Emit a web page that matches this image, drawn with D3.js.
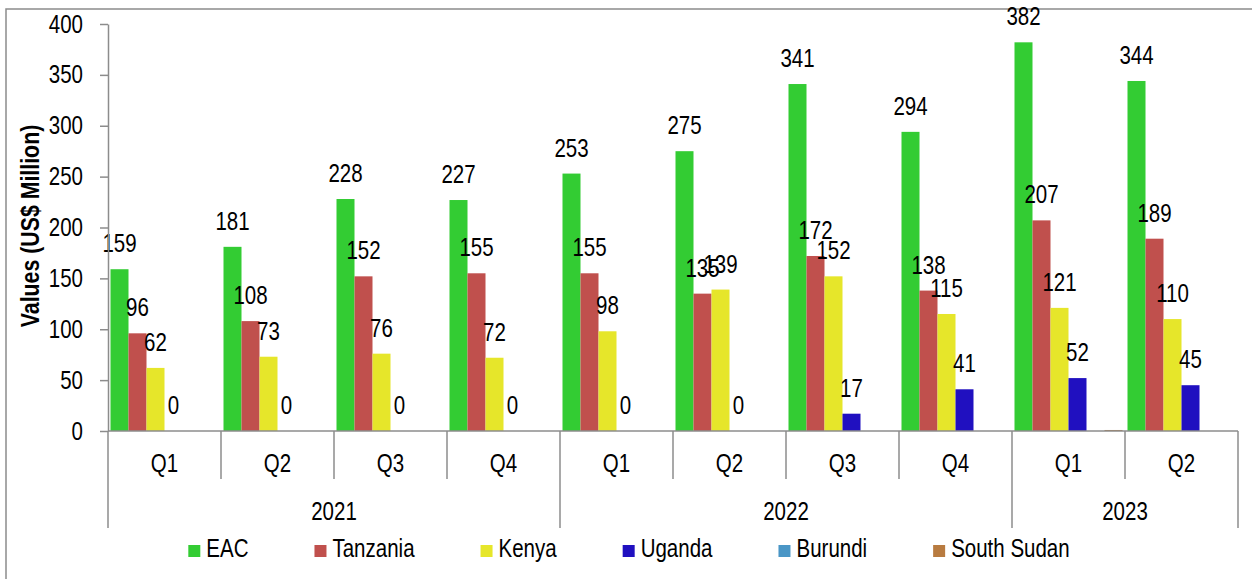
<!DOCTYPE html>
<html>
<head>
<meta charset="utf-8">
<script src="https://cdn.jsdelivr.net/npm/d3@7"></script>
<style>
  body { margin: 0; background: #fff; }
  text { font-family: "Liberation Sans", Arial, sans-serif; fill: #000; }
</style>
</head>
<body>
<script>
// chart data
var quarters = ["Q1", "Q2", "Q3", "Q4", "Q1", "Q2", "Q3", "Q4", "Q1", "Q2"];
var years = ["2021", "2022", "2023"];
var yearQuarterCount = [4, 4, 2];
var seriesNames = ["EAC", "Tanzania", "Kenya", "Uganda", "Burundi", "South Sudan"];
var eac      = [159, 181, 228, 227, 253, 275, 341, 294, 382, 344];
var tanzania = [96, 108, 152, 155, 155, 135, 172, 138, 207, 189];
var kenya    = [62, 73, 76, 72, 98, 139, 152, 115, 121, 110];
var uganda   = [0, 0, 0, 0, 0, 0, 17, 41, 52, 45];
var burundi  = [0, 0, 0, 0, 0, 0, 0, 0, 0, 0];
var southSudan = [0, 0, 0, 0, 0, 0, 0, 0, 1, 0];
var yTicks = [0, 50, 100, 150, 200, 250, 300, 350, 400];
var labelled = ["EAC", "Tanzania", "Kenya", "Uganda"];

var seriesValues = [eac, tanzania, kenya, uganda, burundi, southSudan];
var colors = ["#33cc33", "#c0504d", "#e6e62a", "#2010c0", "#4a96c6", "#b87b40"];

var W = 1252, H = 579;
var NARROW = 0.82; // squeeze to look like Arial Narrow
var axisColor = "#8c8c8c";

// period keys, one per bar group
var periods = [];
var qi = 0;
years.forEach(function(y, i) {
    for (var k = 0; k < yearQuarterCount[i]; k++) {
        periods.push(y + " " + quarters[qi]);
        qi++;
    }
});

var svg = d3.select("body").append("svg")
    .attr("width", W)
    .attr("height", H);

// outer frame (only top and left visible)
svg.append("path")
    .attr("d", "M6," + H + " V9 H" + W)
    .attr("fill", "none")
    .attr("stroke", axisColor)
    .attr("stroke-width", 1.5);

var y = d3.scaleLinear().domain([0, 400]).range([431, 24]);
var x0 = d3.scaleBand().domain(periods).range([108, 1238]);
var x1 = d3.scaleBand().domain(seriesNames).range([2.5, x0.bandwidth() - 2.5]);

function narrowText(g, x, yy, str, size, anchor, weight) {
    return g.append("text")
        .attr("transform", "translate(" + x + "," + yy + ") scale(" + NARROW + ",1)")
        .attr("text-anchor", anchor || "middle")
        .style("font-size", size + "px")
        .style("font-weight", weight || "normal")
        .text(str);
}

// bars
var rows = [];
seriesNames.forEach(function(s, si) {
    seriesValues[si].forEach(function(v, pi) {
        rows.push({ series: s, si: si, period: periods[pi], value: v });
    });
});

svg.append("g").selectAll("rect")
    .data(rows)
    .join("rect")
    .attr("x", function(d) { return x0(d.period) + x1(d.series); })
    .attr("width", x1.bandwidth())
    .attr("y", function(d) { return y(d.value); })
    .attr("height", function(d) { return y(0) - y(d.value); })
    .attr("fill", function(d) { return colors[d.si]; });

// value labels
var lblG = svg.append("g");
rows.filter(function(d) { return labelled.indexOf(d.series) >= 0; }).forEach(function(d) {
    narrowText(lblG, x0(d.period) + x1(d.series) + x1.bandwidth() / 2, y(d.value) - 17,
        d.value, 25);
});

// y axis
var yAxis = svg.append("g")
    .attr("transform", "translate(108,0)")
    .call(d3.axisLeft(y).tickValues(yTicks).tickSize(8).tickSizeOuter(0).tickPadding(17));
yAxis.select(".domain").attr("stroke", axisColor).attr("stroke-width", 1.5);
yAxis.selectAll(".tick line").attr("stroke", axisColor).attr("stroke-width", 1.5);
yAxis.selectAll(".tick text")
    .style("font-size", "25px")
    .attr("font-family", null)
    .attr("x", -25 / NARROW)
    .attr("transform", "scale(" + NARROW + ",1)");

// y axis title
svg.append("text")
    .attr("transform", "translate(39,226) rotate(-90) scale(" + NARROW + ",1)")
    .attr("text-anchor", "middle")
    .style("font-size", "26px")
    .style("font-weight", "bold")
    .text("Values (US$ Million)");

// x axis: baseline and multi-level category dividers
var xg = svg.append("g");
xg.append("line")
    .attr("x1", 108).attr("x2", x0.range()[1])
    .attr("y1", y(0)).attr("y2", y(0))
    .attr("stroke", axisColor).attr("stroke-width", 1.5);

var yearStarts = [0];
yearQuarterCount.forEach(function(c, i) { yearStarts.push(yearStarts[i] + c); });

for (var i = 0; i <= periods.length; i++) {
    var xp = i < periods.length ? x0(periods[i]) : x0.range()[1];
    var isYear = yearStarts.indexOf(i) >= 0;
    xg.append("line")
        .attr("x1", xp).attr("x2", xp)
        .attr("y1", y(0)).attr("y2", isYear ? 528 : 479)
        .attr("stroke", axisColor).attr("stroke-width", 1.5);
}

periods.forEach(function(p, i) {
    narrowText(xg, x0(p) + x0.bandwidth() / 2, 472, quarters[i], 25);
});

years.forEach(function(yr, i) {
    var a = x0(periods[yearStarts[i]]);
    var b = yearStarts[i + 1] < periods.length ? x0(periods[yearStarts[i + 1]]) : x0.range()[1];
    narrowText(xg, (a + b) / 2, 520, yr, 25);
});

// legend
var legG = svg.append("g");
var items = seriesNames.map(function(s, i) {
    var g = legG.append("g");
    g.append("rect")
        .attr("width", 12).attr("height", 12)
        .attr("y", -12)
        .attr("fill", colors[i]);
    var t = narrowText(g, 18, 0, s, 25, "start");
    return { g: g, w: 18 + t.node().getComputedTextLength() * NARROW };
});
var gap = 66;
var total = d3.sum(items, function(d) { return d.w; }) + gap * (items.length - 1);
var lx = 629 - total / 2;
items.forEach(function(it) {
    it.g.attr("transform", "translate(" + lx + ",557)");
    lx += it.w + gap;
});
</script>
</body>
</html>
